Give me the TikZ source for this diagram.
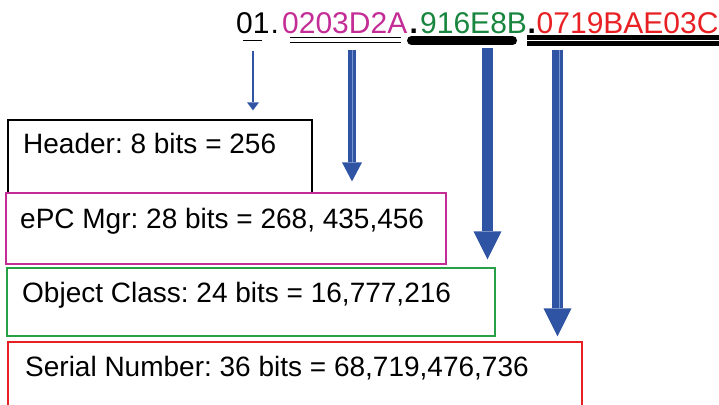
\documentclass[tikz,border=0pt]{standalone}
\usepackage{fontspec}
\setmainfont{Liberation Sans}
\usetikzlibrary{arrows.meta}
\definecolor{epcblue}{RGB}{48,84,164}
\definecolor{epcblueL}{RGB}{120,150,210}
\definecolor{epcmag}{RGB}{196,44,150}
\definecolor{epcgrn}{RGB}{24,134,62}
\definecolor{epcred}{RGB}{232,32,36}
\definecolor{boxgrn}{RGB}{40,160,70}
\frenchspacing
\begin{document}
\begin{tikzpicture}[x=1pt,y=-1pt,
  box/.style={draw,line width=1.2pt,inner sep=0pt},
  lbl/.style={anchor=base west,inner sep=0pt,font=\fontsize{28}{32}\selectfont},
  top/.style={anchor=base west,inner sep=0pt,font=\fontsize{30}{34}\selectfont},
  arrthin/.style={draw=epcblue,line width=2.3pt,-{Triangle[width=12pt,length=8pt,line width=0pt]}},
  arrmid/.style={draw=epcblue,line width=8pt,-{Triangle[width=20pt,length=19pt,line width=0pt]}},
  arrbig/.style={draw=epcblue,line width=11pt,-{Triangle[width=28pt,length=28pt,line width=0pt]}},
  stripe/.style={draw=epcblueL,line width=1pt}
]
\useasboundingbox (0,0) rectangle (719,404);

% top code
\node[top] (t01) at (236,33.5) {01};
\node[top] (d1) at (270.5,33.5) {.};
\node[top,text=epcmag] (tmg) at (282,33.5) {0203D2A};
\node[top] (d2) at (409.5,33.5) {\bfseries .};
\node[top,text=epcgrn] (tgr) at (420,33.5) {916E8B};
\node[top] (d3) at (527.5,33.5) {\bfseries .};
\node[top,text=epcred] (trd) at (536.5,33.5) {0719BAE03C};

% underlines
\draw[line width=1pt] (243,41) -- (262,41);
\draw[line width=1.3pt] (290,37.7) -- (401,37.7);
\draw[line width=1.3pt] (290,42.3) -- (401,42.3);
\draw[line width=9pt,line cap=round] (411.5,40.5) -- (512.5,40.5);
\draw[line width=5pt] (527,37.5) -- (719,37.5);
\draw[line width=4.4pt] (527,43.5) -- (719,43.5);

% boxes
\node[box,minimum width=304pt,minimum height=73pt] (hdr) at (160,156.5) {};
\node[box,draw=epcmag,fill=white,minimum width=440pt,minimum height=71pt] (epc) at (226,228.5) {};
\node[box,draw=boxgrn,minimum width=488pt,minimum height=68pt] (obj) at (251,302) {};
\node[box,draw=epcred,minimum width=574pt,minimum height=72pt] (ser) at (295,378) {};

% labels
\node[lbl] (lh) at (23,153) {Header: 8 bits = 256};
\node[lbl] (le) at (20,228) {ePC Mgr: 28 bits = 268, 435,456};
\node[lbl] (lo) at (22,302.5) {Object Class: 24 bits = 16,777,216};
\node[lbl] (ls) at (25,376) {Serial Number: 36 bits = 68,719,476,736};

% arrows
\coordinate (s1) at (253,51);
\coordinate (s2) at (352,50);
\coordinate (s3) at (487.5,48);
\coordinate (s4) at (557.5,50);
\draw[arrthin,shorten >=9pt] (s1) -- (s1 |- hdr.north);
\draw[arrmid,shorten >=11pt] (s2) -- (s2 |- epc.north);
\draw[stripe] (s2) -- (352,163);
\draw[arrbig,shorten >=8pt] (s3) -- (s3 |- obj.north);
\draw[arrbig,shorten >=5pt] (s4) -- (s4 |- ser.north);
\draw[stripe,line width=1.2pt] (559.5,50) -- (559.5,309);
\end{tikzpicture}
\end{document}
